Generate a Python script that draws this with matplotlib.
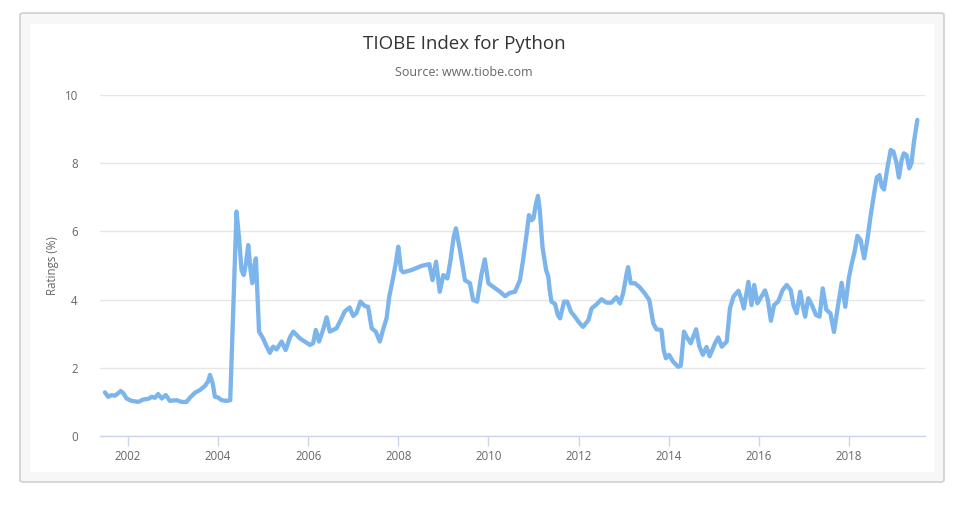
import matplotlib
matplotlib.use("Agg")
import matplotlib.pyplot as plt
from matplotlib.patches import FancyBboxPatch, Rectangle

# TIOBE ratings for Python (decimal year, %)
years = [
    2001.49, 2001.56, 2001.64, 2001.71, 2001.76, 2001.84, 2001.90, 2001.97,
    2002.08, 2002.23, 2002.34, 2002.45, 2002.53, 2002.60, 2002.67, 2002.75,
    2002.84, 2002.93, 2003.08, 2003.19, 2003.30, 2003.38, 2003.49, 2003.60,
    2003.71, 2003.78, 2003.82, 2003.88, 2003.93, 2004.00, 2004.08, 2004.19,
    2004.27, 2004.41, 2004.47, 2004.52, 2004.57, 2004.62, 2004.67, 2004.72,
    2004.76, 2004.80, 2004.84, 2004.87, 2004.91, 2005.00, 2005.08, 2005.15,
    2005.22, 2005.30, 2005.41, 2005.50, 2005.60, 2005.67, 2005.82, 2006.04,
    2006.11, 2006.17, 2006.24, 2006.33, 2006.41, 2006.48, 2006.63, 2006.74,
    2006.81, 2006.92, 2007.00, 2007.07, 2007.16, 2007.26, 2007.33, 2007.41,
    2007.50, 2007.59, 2007.66, 2007.74, 2007.80, 2007.89, 2007.95, 2008.00,
    2008.06, 2008.11, 2008.30, 2008.52, 2008.69, 2008.76, 2008.84, 2008.92,
    2009.00, 2009.09, 2009.16, 2009.23, 2009.28, 2009.37, 2009.48, 2009.59,
    2009.66, 2009.75, 2009.85, 2009.92, 2010.00, 2010.10, 2010.26, 2010.37,
    2010.48, 2010.59, 2010.70, 2010.77, 2010.85, 2010.90, 2010.96, 2011.00,
    2011.05, 2011.10, 2011.14, 2011.20, 2011.28, 2011.33, 2011.36, 2011.40,
    2011.48, 2011.54, 2011.59, 2011.68, 2011.75, 2011.83, 2011.92, 2012.00,
    2012.10, 2012.22, 2012.29, 2012.40, 2012.51, 2012.62, 2012.73, 2012.84,
    2012.92, 2012.99, 2013.07, 2013.10, 2013.16, 2013.25, 2013.36, 2013.47,
    2013.57, 2013.66, 2013.73, 2013.84, 2013.89, 2013.94, 2014.01, 2014.10,
    2014.21, 2014.27, 2014.34, 2014.40, 2014.49, 2014.61, 2014.68, 2014.76,
    2014.84, 2014.91, 2015.03, 2015.10, 2015.18, 2015.29, 2015.36, 2015.44,
    2015.55, 2015.62, 2015.67, 2015.77, 2015.84, 2015.90, 2015.97, 2016.07,
    2016.14, 2016.20, 2016.27, 2016.34, 2016.43, 2016.53, 2016.62, 2016.71,
    2016.77, 2016.84, 2016.92, 2016.98, 2017.03, 2017.10, 2017.18, 2017.27,
    2017.35, 2017.42, 2017.50, 2017.59, 2017.67, 2017.75, 2017.84, 2017.92,
    2018.00, 2018.06, 2018.13, 2018.19, 2018.26, 2018.34, 2018.41, 2018.48,
    2018.56, 2018.62, 2018.68, 2018.73, 2018.78, 2018.86, 2018.93, 2018.99,
    2019.06, 2019.11, 2019.17, 2019.22, 2019.28, 2019.34, 2019.39, 2019.44,
    2019.52,
]
ratings = [
    1.28, 1.15, 1.20, 1.18, 1.23, 1.32, 1.25, 1.10,
    1.03, 1.00, 1.07, 1.09, 1.15, 1.12, 1.23, 1.10,
    1.20, 1.03, 1.05, 1.00, 1.00, 1.13, 1.27, 1.35,
    1.47, 1.60, 1.79, 1.55, 1.15, 1.13, 1.05, 1.03,
    1.05, 6.58, 5.75, 4.87, 4.72, 5.06, 5.60, 4.87,
    4.48, 4.96, 5.21, 4.28, 3.06, 2.86, 2.62, 2.44,
    2.62, 2.54, 2.77, 2.52, 2.91, 3.06, 2.86, 2.67,
    2.72, 3.11, 2.77, 3.11, 3.48, 3.06, 3.16, 3.45,
    3.65, 3.77, 3.52, 3.60, 3.94, 3.81, 3.79, 3.16,
    3.06, 2.77, 3.11, 3.45, 4.09, 4.67, 5.11, 5.55,
    4.87, 4.80, 4.87, 4.99, 5.04, 4.57, 5.11, 4.23,
    4.72, 4.62, 5.16, 5.84, 6.09, 5.45, 4.57, 4.48,
    3.99, 3.94, 4.77, 5.18, 4.48, 4.38, 4.23, 4.10,
    4.20, 4.23, 4.57, 5.16, 5.94, 6.48, 6.33, 6.38,
    6.77, 7.04, 6.63, 5.55, 4.87, 4.67, 4.28, 3.94,
    3.87, 3.55, 3.45, 3.94, 3.94, 3.65, 3.50, 3.35,
    3.20, 3.40, 3.74, 3.86, 4.01, 3.91, 3.91, 4.07,
    3.89, 4.18, 4.77, 4.95, 4.48, 4.48, 4.36, 4.18,
    3.99, 3.30, 3.13, 3.11, 2.52, 2.28, 2.38, 2.18,
    2.03, 2.06, 3.06, 2.91, 2.72, 3.13, 2.64, 2.38,
    2.61, 2.34, 2.72, 2.89, 2.62, 2.77, 3.74, 4.09,
    4.26, 3.99, 3.74, 4.52, 3.84, 4.43, 3.89, 4.11,
    4.27, 4.00, 3.38, 3.84, 3.94, 4.28, 4.43, 4.28,
    3.84, 3.60, 4.23, 3.79, 3.50, 4.04, 3.84, 3.55,
    3.50, 4.33, 3.70, 3.60, 3.05, 3.74, 4.49, 3.79,
    4.64, 5.03, 5.42, 5.87, 5.75, 5.21, 5.75, 6.43,
    7.11, 7.58, 7.65, 7.31, 7.23, 7.90, 8.39, 8.34,
    8.00, 7.58, 8.09, 8.29, 8.24, 7.85, 8.00, 8.58,
    9.27,
]
x_ticks = [2002, 2004, 2006, 2008, 2010, 2012, 2014, 2016, 2018]
y_ticks = [0, 2, 4, 6, 8, 10]

W, H = 980, 520
fig = plt.figure(figsize=(W / 100, H / 100), dpi=100)
plt.rcParams['font.family'] = ['Open Sans', 'DejaVu Sans']

# outer frame and inner white panel
frame = FancyBboxPatch((20 / W, 1 - 482 / H), 924 / W, 469 / H,
                       boxstyle="round,pad=0,rounding_size=0.004",
                       transform=fig.transFigure, facecolor="#f7f7f7",
                       edgecolor="#cfcfcf", linewidth=1.2, zorder=0)
fig.patches.append(frame)
panel = Rectangle((30 / W, 1 - 472 / H), 904 / W, 448 / H,
                  transform=fig.transFigure, facecolor="white",
                  edgecolor="none", zorder=0.5)
fig.patches.append(panel)

ax = fig.add_axes([100 / W, 1 - 436 / H, 825 / W, 341 / H])
ax.set_zorder(2)
ax.set_facecolor("none")
ax.plot(years, ratings, color="#7cb5ec", lw=3.1, solid_joinstyle="round",
        solid_capstyle="round", zorder=3, clip_on=False)

ax.set_xlim(2001.38, 2019.69)
ax.set_ylim(0, 10)
ax.set_xticks(x_ticks)
ax.set_yticks(y_ticks)
ax.set_xticklabels([str(t) for t in x_ticks])
ax.set_yticklabels([str(t) for t in y_ticks])

ax.grid(axis="y", color="#e6e6e6", lw=1)
ax.set_axisbelow(True)
for side in ["top", "right", "left"]:
    ax.spines[side].set_visible(False)
ax.spines["bottom"].set_color("#ccd6eb")
ax.spines["bottom"].set_linewidth(1)
ax.tick_params(axis="x", colors="#ccd6eb", length=7, width=1,
               labelcolor="#666666", labelsize=8.3, pad=3)
ax.tick_params(axis="y", length=0, labelcolor="#666666", labelsize=8.3, pad=16)

ax.set_ylabel("Ratings (%)", color="#666666", fontsize=8.3, labelpad=4)

fig.text(464 / W, 1 - 44 / H, "TIOBE Index for Python", ha="center",
         va="center", fontsize=13.5, color="#333333")
fig.text(464 / W, 1 - 72 / H, "Source: www.tiobe.com", ha="center",
         va="center", fontsize=9, color="#666666")

fig.savefig("out.png", dpi=100)
